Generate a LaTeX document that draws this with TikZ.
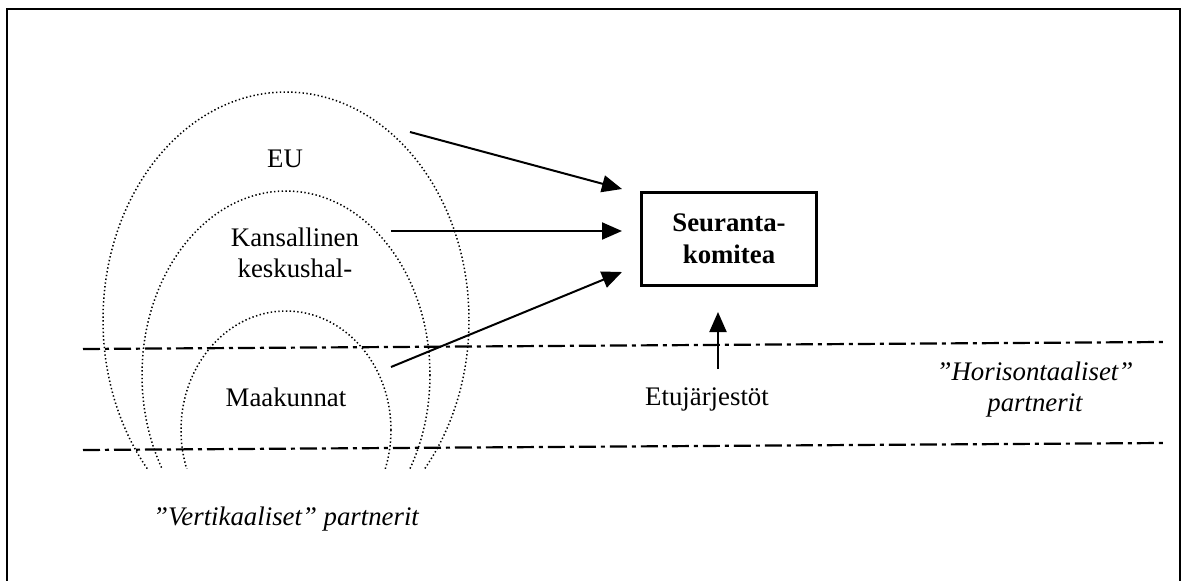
\documentclass[tikz,border=0pt]{standalone}
\usepackage{fontspec}
\setmainfont{Liberation Serif}
\usetikzlibrary{arrows.meta}

\tikzset{
  lbl/.style={font=\fontsize{26.8}{31}\selectfont, inner sep=0pt, align=center},
  itlbl/.style={lbl, font=\fontsize{26.8}{31}\selectfont\itshape},
  arch/.style={line width=1.5pt, dash pattern=on 1.4pt off 2.4pt},
  level/.style={line width=2.2pt, dash pattern=on 17pt off 5pt on 4pt off 5pt},
  arr/.style={line width=2pt, -{Triangle[length=20pt,width=17pt]}},
  committee/.style={draw, line width=3pt, minimum width=175pt, minimum height=93pt,
    inner sep=0pt, align=center, font=\fontsize{26.8}{32}\selectfont\bfseries}
}

\begin{document}
\begin{tikzpicture}[x=1pt, y=-1pt]
  \useasboundingbox (0,0) rectangle (1187,581);

  % frame, open at the bottom
  \draw[line width=2pt] (7,581) -- (7,9) -- (1180,9) -- (1180,581);

  % nested dotted arches, cut off below
  \begin{scope}
    \clip (0,0) rectangle (1187,468);
    \draw[arch] (286,320) ellipse [x radius=183, y radius=228];
    \draw[arch] (286,375) ellipse [x radius=144, y radius=184];
    \draw[arch] (286,430) ellipse [x radius=105, y radius=119];
  \end{scope}

  % level lines
  \coordinate (l1a) at (83,349);
  \coordinate (l1b) at (1163,342);
  \coordinate (l2a) at (83,450);
  \coordinate (l2b) at (1163,443);
  \draw[level] (l1a) -- (l1b);
  \draw[level] (l2a) -- (l2b);

  % labels
  \node[lbl, anchor=base] (eu) at (285,167) {EU};
  \node[lbl] (kansal) at (295,253) {Kansallinen\\keskushal-};
  \node[lbl, anchor=base] (maak) at (286,406) {Maakunnat};
  \node[lbl, anchor=base] (etu) at (707,405) {Etujärjestöt};
  \node[itlbl] (hor) at (1035,390) {”Horisontaaliset”\\partnerit};
  \node[itlbl, anchor=base] (ver) at (286,525) {”Vertikaaliset” partnerit};

  % monitoring committee
  \node[committee] (box) at (729,239) {Seuranta-\\komitea};

  % arrows into the committee
  \coordinate (s1) at (410,132);
  \coordinate (s2) at (391,231);
  \coordinate (s3) at (391,367);
  \coordinate (s4) at (718,369);
  \coordinate (t1) at (622,189);
  \coordinate (t2) at (622,231);
  \coordinate (t3) at (622,272);
  \coordinate (t4) at (718,312);
  \draw[arr] (s1) -- (t1);
  \draw[arr] (s2) -- (t2);
  \draw[arr] (s3) -- (t3);
  \draw[arr] (s4) -- (t4);
\end{tikzpicture}
\end{document}
